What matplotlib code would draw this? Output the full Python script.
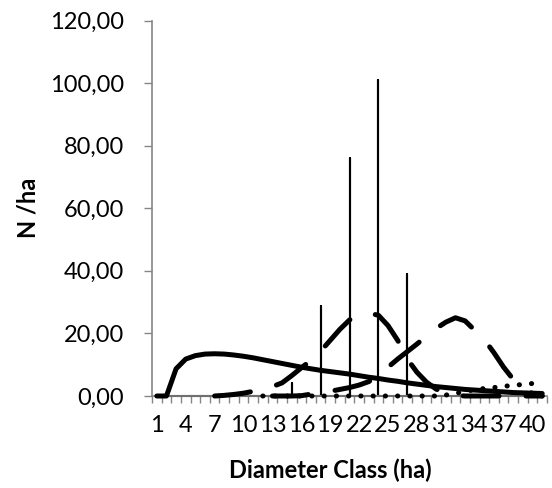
import numpy as np
import matplotlib.pyplot as plt
from matplotlib.ticker import FuncFormatter

# diameter classes 1..41
classes = np.arange(1, 42)

# solid smooth series
solid = [0.0, 0.0, 8.7, 11.8, 12.9, 13.4, 13.5, 13.4, 13.1, 12.7,
         12.2, 11.6, 11.0, 10.4, 9.8, 9.2, 8.7, 8.2, 7.8, 7.4,
         7.0, 6.5, 6.0, 5.6, 5.1, 4.7, 4.2, 3.8, 3.4, 3.0,
         2.7, 2.4, 2.1, 1.9, 1.7, 1.5, 1.3, 1.1, 1.0, 0.9, 0.8]

# thin spike series (zero except a few classes)
spikes = [0, 0, 0, 0, 0, 0, 0, 0, 0, 0,
          0, 0, 0, 0, 4.3, 0, 0, 28.8, 0, 0,
          75.9, 0, 0, 100.9, 0, 0, 38.9, 0, 0, 0,
          0, 0, 0, 0, 0, 0, 0, 0, 0, 0, 0]

nan = np.nan
# first long-dash series (starts at class 7)
dash_a = [nan, nan, nan, nan, nan, nan, 0.0, 0.2, 0.5, 0.9,
          1.5, 2.2, 3.0, 4.2, 6.5, 9.0, 11.4, 14.3, 17.8, 21.3,
          24.3, 26.0, 26.5, 25.8, 22.5, 17.8, 11.8, 7.6, 4.4, 2.2,
          0.8, 0.2, 0, 0, 0, 0, 0, 0, 0, 0, 0]

# second long-dash series (starts at class 13)
dash_b = [nan, nan, nan, nan, nan, nan, nan, nan, nan, nan,
          nan, nan, 0.0, 0.0, 0.0, 0.1, 0.6, 1.1, 1.5, 2.1,
          2.7, 3.5, 4.6, 6.5, 9.2, 11.8, 14.2, 16.6, 19.2, 21.6,
          23.6, 25.0, 24.0, 21.0, 18.0, 13.8, 9.2, 5.3, 2.4, 0.8, 0.0]

# dotted series (classes 12..40)
dotted = [nan, nan, nan, nan, nan, nan, nan, nan, nan, nan,
          nan, 0, 0, 0, 0, 0, 0, 0, 0, 0,
          0, 0, 0, 0, 0, 0, 0, 0, 0, 0,
          0.3, 0.8, 1.5, 2.0, 2.4, 2.7, 3.1, 3.4, 3.7, 4.0, nan]

label_every = [1, 4, 7, 10, 13, 16, 19, 22, 25, 28, 31, 34, 37, 40]

plt.rcParams['font.family'] = ['Lato', 'DejaVu Sans']
axis_gray = '#868686'

fig = plt.figure(figsize=(5.52, 4.88), dpi=100)
ax = fig.add_axes([152/552, 1 - 396/488, 395/552, 375.5/488])

lw = 3.6
ax.plot(classes, solid, color='black', lw=lw, solid_capstyle='round',
        zorder=3, clip_on=False)

# spike series: drawn as one line going up and back down at every class
sx = np.repeat(classes, 3)
sy = np.column_stack([np.zeros(len(spikes)), spikes, np.zeros(len(spikes))]).ravel()
ax.plot(sx, sy, color='black', lw=1.5, zorder=2, clip_on=False)

ax.plot(classes, dash_a, color='black', lw=lw, dashes=(7.2, 5.4),
        dash_capstyle='round', zorder=3, clip_on=False)
ax.plot(classes, dash_b, color='black', lw=lw, dashes=(7.2, 5.4),
        dash_capstyle='round', zorder=3, clip_on=False)
ax.plot(classes, dotted, color='black', lw=lw, dashes=(0.05, 2.4),
        dash_capstyle='round', zorder=3, clip_on=False)

ax.set_xlim(0.5, 41.5)
ax.set_ylim(0, 120)
ax.set_yticks(np.arange(0, 121, 20))
ax.yaxis.set_major_formatter(FuncFormatter(lambda v, p: f'{v:.2f}'.replace('.', ',')))

# ticks between categories, labels on every third class
ax.set_xticks(np.arange(0.5, 42, 1))
ax.set_xticklabels([])
ax.set_xticks(label_every, minor=True)
ax.set_xticklabels([str(c) for c in label_every], minor=True)
ax.tick_params(axis='x', which='major', length=5, width=1, color=axis_gray, direction='out')
ax.tick_params(axis='x', which='minor', length=0, pad=14, labelsize=17)
ax.tick_params(axis='y', length=6, width=1, color=axis_gray, pad=14, labelsize=17)

for s in ['top', 'right']:
    ax.spines[s].set_visible(False)
for s in ['left', 'bottom']:
    ax.spines[s].set_color(axis_gray)
    ax.spines[s].set_linewidth(1.2)

fig.text(330/552, 1 - 470/488, 'Diameter Class (ha)', ha='center', va='center',
         fontsize=17, fontweight='bold')
fig.text(28/552, 1 - 208/488, 'N /ha', ha='center', va='center', rotation=90,
         fontsize=17, fontweight='bold')

fig.savefig('out.png', dpi=100)
